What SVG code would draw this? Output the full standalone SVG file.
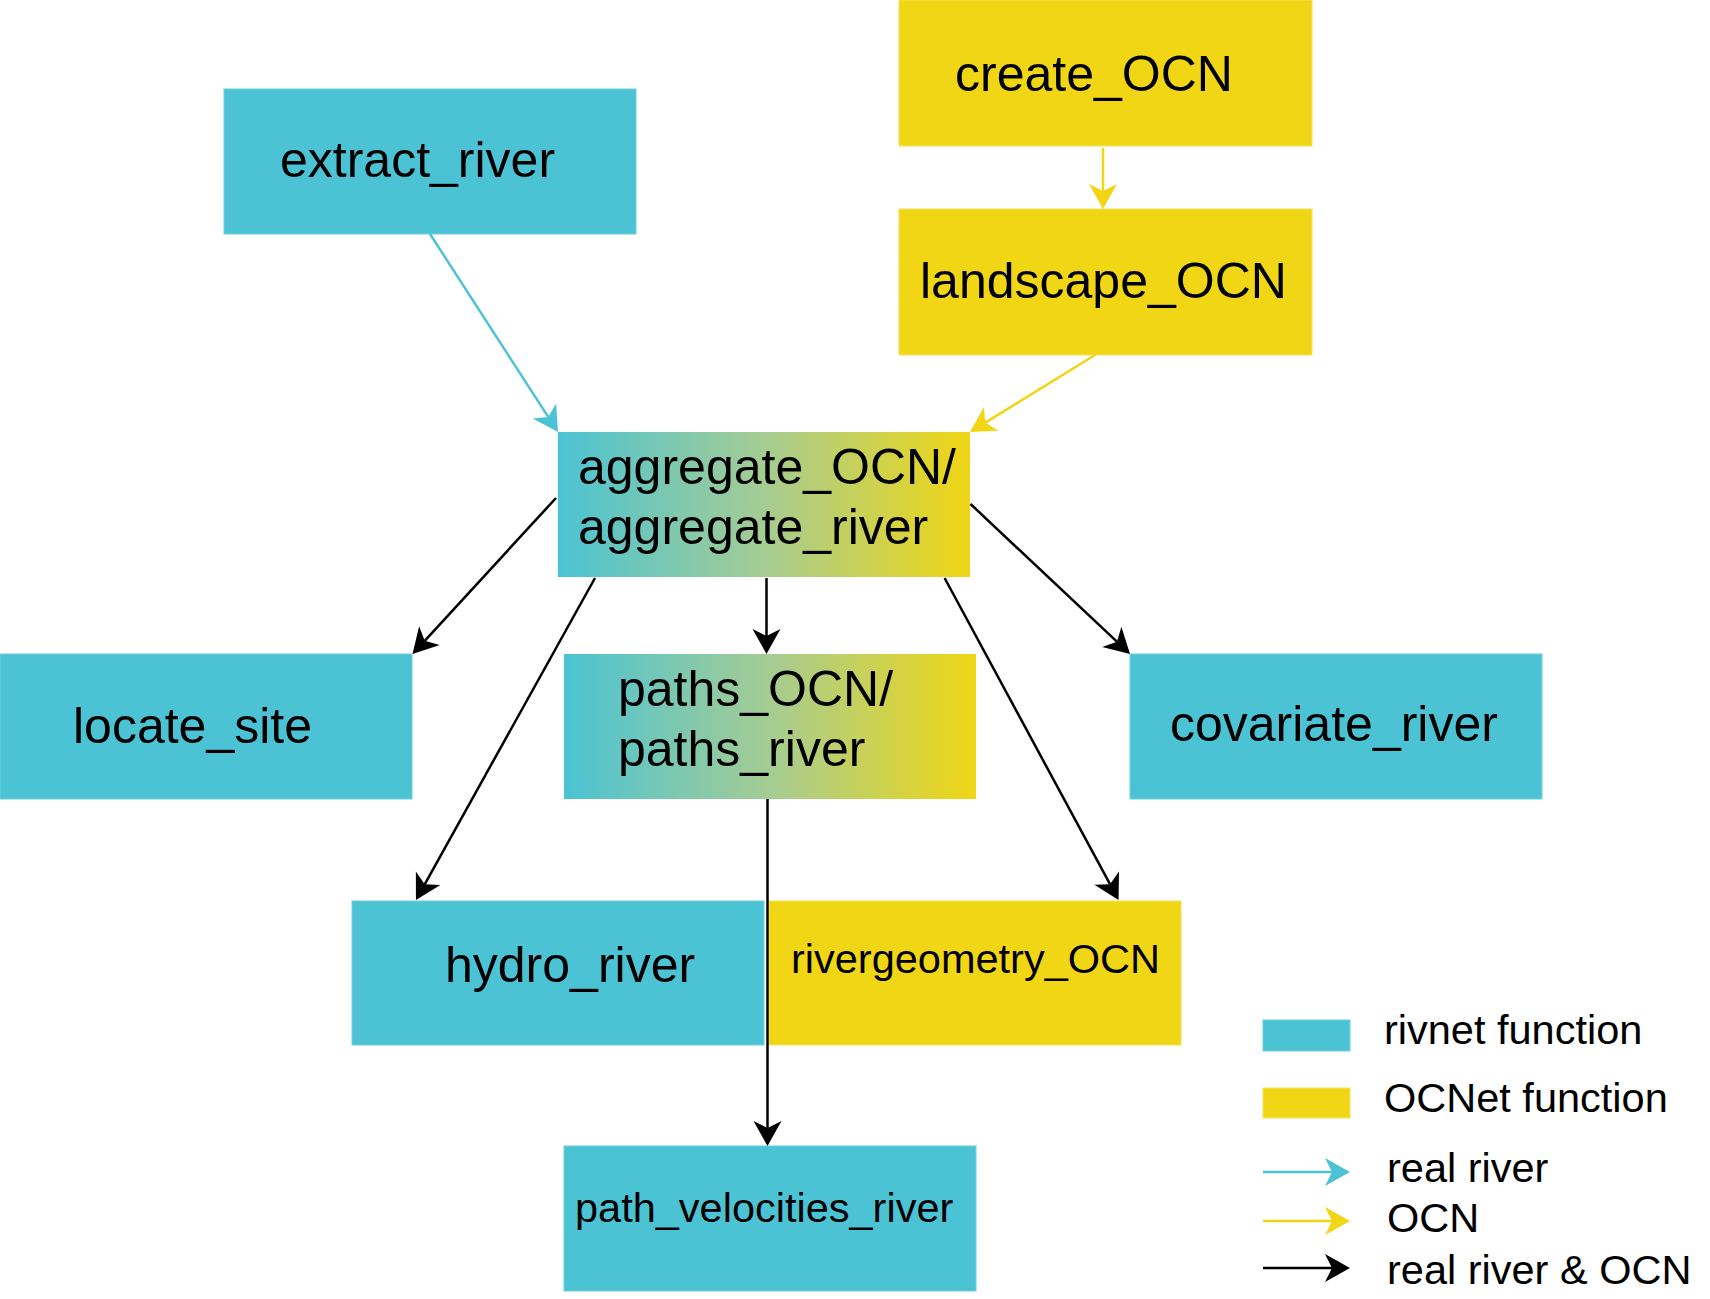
<svg xmlns="http://www.w3.org/2000/svg" width="1710" height="1299" viewBox="0 0 1710 1299">
<style>
.cy{fill:#4bc3d4;stroke:#6fd0dc;stroke-width:1}
.ye{fill:#f0d614;stroke:#f5e25a;stroke-width:1}
.gr{fill:url(#grad)}
text{font-family:"Liberation Sans",Arial,sans-serif;fill:#000}
.big{font-size:50px}
.sm{font-size:41.5px}
.lk{fill:none;stroke:#000;stroke-width:2.5}
.lc{fill:none;stroke:#4bc3d4;stroke-width:2.5}
.ly{fill:none;stroke:#f0d614;stroke-width:2.5}
</style>
<defs>
<linearGradient id="grad" x1="0" y1="0" x2="1" y2="0">
<stop offset="0" stop-color="#4bc3d4"/>
<stop offset="0.5" stop-color="#a5cc93"/>
<stop offset="1" stop-color="#f0d614"/>
</linearGradient>
<marker id="ak" markerUnits="userSpaceOnUse" viewBox="-10 -15 30 30" markerWidth="30" markerHeight="30" refX="0" refY="0" orient="auto"><path d="M18,0 L-7,-14 L0,0 L-7,14 Z" fill="#000"/></marker>
<marker id="ac" markerUnits="userSpaceOnUse" viewBox="-10 -15 30 30" markerWidth="30" markerHeight="30" refX="0" refY="0" orient="auto"><path d="M18,0 L-7,-14 L0,0 L-7,14 Z" fill="#4bc3d4"/></marker>
<marker id="ay" markerUnits="userSpaceOnUse" viewBox="-10 -15 30 30" markerWidth="30" markerHeight="30" refX="0" refY="0" orient="auto"><path d="M18,0 L-7,-14 L0,0 L-7,14 Z" fill="#f0d614"/></marker>
</defs>
<rect width="1710" height="1299" fill="#fff"/>

<g id="extract_river"><rect class="cy" x="224" y="89" width="412" height="145"/><text class="big" x="280" y="177">extract_river</text></g>
<g id="create_OCN"><rect class="ye" x="899" y="0" width="413" height="146"/><text class="big" x="955" y="91">create_OCN</text></g>
<g id="landscape_OCN"><rect class="ye" x="899" y="209" width="413" height="146"/><text class="big" x="920" y="298">landscape_OCN</text></g>
<g id="aggregate"><rect class="gr" x="558" y="432" width="412" height="145"/><text class="big" x="578" y="484">aggregate_OCN/</text><text class="big" x="578" y="544">aggregate_river</text></g>
<g id="locate_site"><rect class="cy" x="0" y="654" width="412" height="145"/><text class="big" x="73" y="743">locate_site</text></g>
<g id="paths"><rect class="gr" x="564" y="654" width="412" height="145"/><text class="big" x="618" y="706">paths_OCN/</text><text class="big" x="618" y="766">paths_river</text></g>
<g id="covariate_river"><rect class="cy" x="1130" y="654" width="412" height="145"/><text class="big" x="1170" y="741">covariate_river</text></g>
<g id="hydro_river"><rect class="cy" x="352" y="901" width="412" height="144"/><text class="big" x="445" y="982">hydro_river</text></g>
<g id="rivergeometry_OCN"><rect class="ye" x="769" y="901" width="412" height="144"/><text class="sm" x="791" y="973">rivergeometry_OCN</text></g>
<g id="path_velocities_river"><rect class="cy" x="564" y="1146" width="412" height="145"/><text class="sm" x="575" y="1222">path_velocities_river</text></g>

<g id="connectors">
<line class="lc" x1="430" y1="234" x2="548.2" y2="416.9" marker-end="url(#ac)"/>
<line class="ly" x1="1103" y1="148" x2="1103" y2="191" marker-end="url(#ay)"/>
<line class="ly" x1="1095" y1="355" x2="985.3" y2="422.6" marker-end="url(#ay)"/>
<line class="lk" x1="556" y1="498" x2="424.7" y2="640.8" marker-end="url(#ak)"/>
<line class="lk" x1="595" y1="578" x2="424.7" y2="884.3" marker-end="url(#ak)"/>
<line class="lk" x1="766.5" y1="578" x2="766.5" y2="636" marker-end="url(#ak)"/>
<line class="lk" x1="944.6" y1="578" x2="1110" y2="884.2" marker-end="url(#ak)"/>
<line class="lk" x1="970.5" y1="504" x2="1116.9" y2="641.7" marker-end="url(#ak)"/>
<line class="lk" x1="767.5" y1="799" x2="767.5" y2="1128" marker-end="url(#ak)"/>
</g>

<g id="legend">
<rect class="cy" x="1263" y="1020" width="87" height="31"/>
<rect class="ye" x="1263" y="1088" width="87" height="30"/>
<text class="sm" x="1384" y="1044">rivnet function</text>
<text class="sm" x="1384" y="1112">OCNet function</text>
<line class="lc" x1="1263" y1="1172" x2="1332" y2="1172" marker-end="url(#ac)"/>
<line class="ly" x1="1263" y1="1221" x2="1332" y2="1221" marker-end="url(#ay)"/>
<line class="lk" x1="1263" y1="1268" x2="1332" y2="1268" marker-end="url(#ak)"/>
<text class="sm" x="1387" y="1182">real river</text>
<text class="sm" x="1387" y="1232">OCN</text>
<text class="sm" x="1387" y="1284">real river &amp; OCN</text>
</g>
</svg>
